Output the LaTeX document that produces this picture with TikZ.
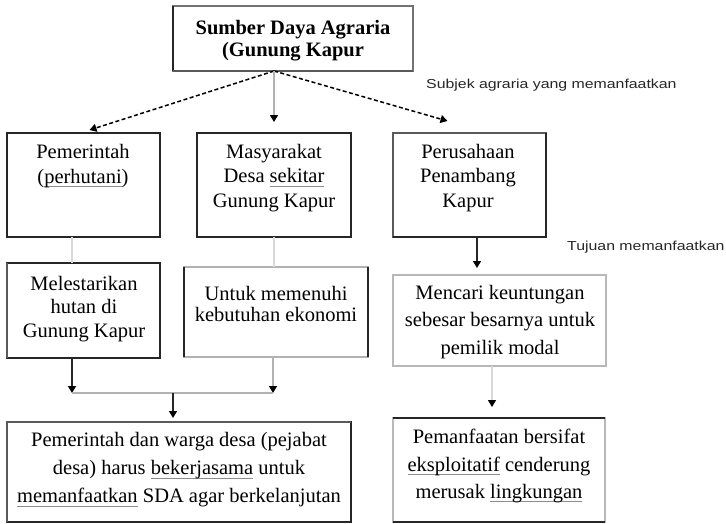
\documentclass[tikz,border=0pt]{standalone}
\usepackage{fontspec}
\setmainfont{Liberation Serif}
\newfontfamily\notefont[FakeStretch=1.22]{Liberation Sans}
\usetikzlibrary{arrows.meta}

% thin grey rule under a word (proofing mark)
\newcommand{\spellmark}[1]{\setbox0\hbox{#1}\rlap{\textcolor{black!45}{\rule[-3.5pt]{\wd0}{0.8pt}}}\box0\relax}

\begin{document}
\begin{tikzpicture}[x=1pt,y=-1pt,
  >={Triangle[width=8pt,length=7pt,color=black]},
  box/.style={rectangle, draw=#1, line width=1.3pt, inner sep=0pt, outer sep=0pt},
  hardedge/.style={black!85, line width=1.7pt},
  midedge/.style={black!65, line width=1.3pt},
  body/.style={align=center, inner sep=0pt, font=\fontsize{20.5}{#1}\selectfont},
  titletext/.style={align=center, inner sep=0pt, font=\fontsize{20.5}{22}\selectfont\bfseries},
  note/.style={inner sep=0pt, text=black!85, font=\notefont\fontsize{13}{15}\selectfont},
  dasharrow/.style={->, black, line width=1.5pt, dash pattern=on 4pt off 2.5pt},
  darkline/.style={black!85, line width=1.4pt},
  greyline/.style={black!30, line width=1.1pt},
  faintline/.style={black!15, line width=1.1pt}]

\useasboundingbox (0,0) rectangle (726,523);

% ---- boxes ----
\node[box=black!55, minimum width=240pt, minimum height=65pt] (top) at (293,38.5) {};
\draw[hardedge] (top.north west) -- (top.south west);
\draw[midedge] (top.south west) -- (top.south east);

\node[box=black!85, line width=1.6pt, minimum width=153pt, minimum height=104pt] (pem) at (83.5,185) {};
\node[box=black!85, line width=1.6pt, minimum width=154pt, minimum height=104pt] (mas) at (274,185) {};
\node[box=black!65, minimum width=153pt, minimum height=104pt] (per) at (469.5,185) {};
\draw[hardedge] (per.north east) -- (per.south east) -- (per.south west);

\node[box=black!85, line width=1.6pt, minimum width=153pt, minimum height=95pt] (mel) at (83.5,310.5) {};
\draw[midedge] (mel.north west) -- (mel.south west);
\node[box=black!30, minimum width=184pt, minimum height=90pt] (unt) at (276,312) {};
\draw[hardedge] (unt.north west) -- (unt.south west);
\draw[hardedge] (unt.north east) -- (unt.south east);
\node[box=black!28, minimum width=213pt, minimum height=91pt] (men) at (499.5,320.5) {};

\node[box=black!85, line width=1.6pt, minimum width=344pt, minimum height=100pt] (pemda) at (179,472) {};
\draw[midedge] (pemda.south west) -- (pemda.north west) -- (pemda.north east);
\node[box=black!28, minimum width=212pt, minimum height=104pt] (pmf) at (499,470) {};
\draw[hardedge] (pmf.north west) -- (pmf.north east);
\draw[hardedge] (pmf.south west) -- (pmf.south east);

% ---- texts ----
\node[titletext] (topt) at (293,41) {Sumber Daya Agraria\\(Gunung Kapur};
\node[body=25] (pemt) at (83,166) {Pemerintah\\(\spellmark{perhutani})};
\node[body=24.5] (mast) at (274,178) {Masyarakat\\Desa \spellmark{sekitar}\\Gunung Kapur};
\node[body=24.5] (pert) at (468,178) {Perusahaan\\Penambang\\Kapur};
\node[body=23.5] (melt) at (84,309) {Melestarikan\\hutan di\\Gunung Kapur};
\node[body=21] (untt) at (276,304) {Untuk memenuhi\\kebutuhan ekonomi};
\node[body=27.5] (ment) at (500,322) {Mencari keuntungan\\sebesar besarnya untuk\\pemilik modal};
\node[body=28] (pemdat) at (179,470) {Pemerintah dan warga desa (pejabat\\desa) harus \spellmark{bekerjasama} untuk\\\spellmark{memanfaatkan} SDA agar berkelanjutan};
\node[body=27.5] (pmft) at (499,466) {Pemanfaatan bersifat\\\spellmark{eksploitatif} cenderung\\merusak \spellmark{lingkungan}};

\node[note, anchor=west] (subj) at (426,85) {Subjek agraria yang memanfaatkan};
\node[note, anchor=west] (tuj) at (567,247) {Tujuan memanfaatkan};

% ---- connectors ----
\coordinate (fork) at (top.south -| mas.north);
\draw[dasharrow] (fork) -- ([shift={(6,-3)}]pem.north);
\draw[dasharrow] (fork) -- ([shift={(-22,-12)}]per.north);
\draw[greyline, ->] (fork) -- ([yshift=11pt]mas.north);

\draw[faintline] ([xshift=65pt]pem.south west) -- ([xshift=65pt]mel.north west);
\draw[faintline] (mas.south) -- (mas.south |- unt.north);

\draw[darkline, ->] ([xshift=7.5pt]per.south) -- ([xshift=7.5pt, yshift=7pt]per.south |- men.north);
\draw[faintline, ->] ([xshift=-7.5pt]men.south) -- ([xshift=-7.5pt, yshift=11pt]men.south |- pmf.north);

\coordinate (jl) at (72,393);
\coordinate (jr) at (273,393);
\coordinate (jm) at (173,393);
\draw[darkline, ->] ([xshift=65pt]mel.south west) -- (jl);
\draw[greyline, ->] (jr |- unt.south) -- (jr);
\draw[greyline] (jl) -- (jr);
\draw[darkline, ->] (jm) -- ([yshift=4pt]jm |- pemda.north);
\end{tikzpicture}
\end{document}
